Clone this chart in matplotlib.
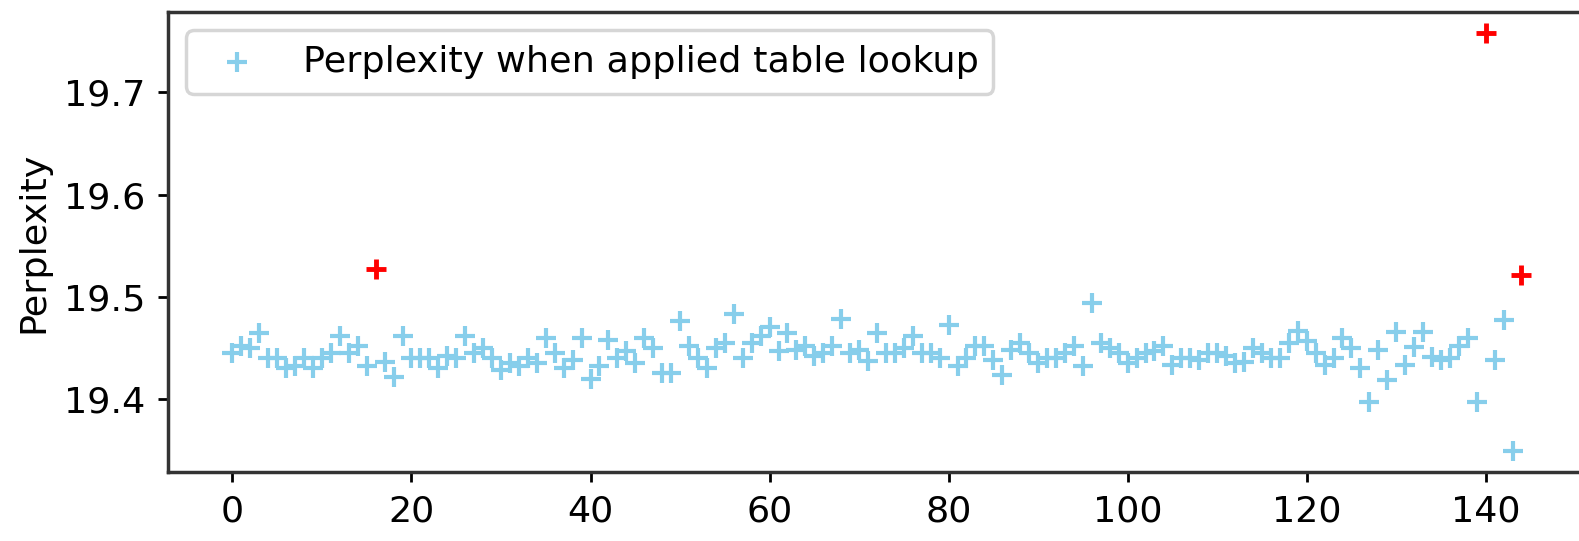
#!/usr/bin/env python3
"""
Perplexity per step when table lookup is applied, with outliers marked in red.
"""

import numpy as np
import matplotlib
matplotlib.use("Agg")
import matplotlib.pyplot as plt

# Perplexity for each step (nan where the value is an outlier, drawn in red)
perplexity = [
    19.445, 19.452, 19.450, 19.465, 19.440, 19.440, 19.430, 19.432, 19.440, 19.430,
    19.440, 19.445, 19.462, 19.445, 19.452, 19.432, np.nan, 19.436, 19.422, 19.462,
    19.440, 19.440, 19.440, 19.430, 19.442, 19.440, 19.462, 19.445, 19.450, 19.440,
    19.428, 19.435, 19.432, 19.440, 19.435, 19.460, 19.445, 19.430, 19.438, 19.460,
    19.420, 19.432, 19.458, 19.440, 19.447, 19.435, 19.460, 19.450, 19.425, 19.425,
    19.476, 19.452, 19.440, 19.430, 19.450, 19.455, 19.483, 19.440, 19.455, 19.462,
    19.470, 19.447, 19.465, 19.448, 19.452, 19.442, 19.445, 19.452, 19.478, 19.445,
    19.448, 19.437, 19.465, 19.445, 19.445, 19.450, 19.462, 19.445, 19.445, 19.440,
    19.472, 19.432, 19.440, 19.452, 19.452, 19.438, 19.423, 19.448, 19.455, 19.445,
    19.435, 19.440, 19.440, 19.445, 19.452, 19.432, 19.494, 19.455, 19.450, 19.445,
    19.435, 19.440, 19.445, 19.447, 19.452, 19.433, 19.440, 19.440, 19.438, 19.445,
    19.445, 19.442, 19.435, 19.436, 19.450, 19.445, 19.440, 19.440, 19.455, 19.467,
    19.457, 19.445, 19.433, 19.440, 19.460, 19.450, 19.430, 19.397, 19.448, 19.419,
    19.466, 19.433, 19.451, 19.466, 19.441, 19.438, 19.440, 19.452, 19.460, 19.397,
    np.nan, 19.438, 19.477, 19.349, np.nan,
]
steps = list(range(len(perplexity)))

# Outliers
outlier_steps = [16, 140, 144]
outlier_values = [19.527, 19.758, 19.521]

plt.rcParams['font.size'] = 10.5

fig = plt.figure(figsize=(1579 / 250, 541 / 250), dpi=250)
# the right part of the axes runs past the image edge, as in the original
ax = fig.add_axes([0.1064, 0.1275, 0.898, 0.850])

ax.scatter(steps, perplexity, marker='+', color='skyblue', s=32, linewidths=1.2,
           label='Perplexity when applied table lookup')
ax.scatter(outlier_steps, outlier_values, marker='+', color='red', s=30, linewidths=1.4)

ax.set_ylabel('Perplexity')
ax.set_xticks(range(0, 141, 20))
ax.set_yticks([19.4, 19.5, 19.6, 19.7])
ax.tick_params(length=3)
for spine in ax.spines.values():
    spine.set_color('#333333')
    spine.set_linewidth(1.0)
ax.legend(loc='upper left')

fig.savefig('out.png', dpi=250)
